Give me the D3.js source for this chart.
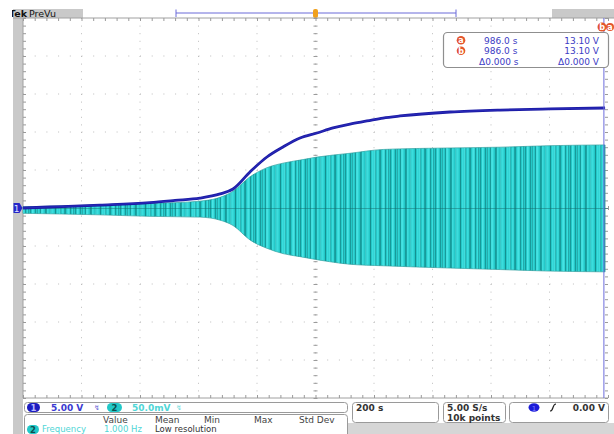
<!DOCTYPE html>
<html><head><meta charset="utf-8">
<script src="https://cdn.jsdelivr.net/npm/d3@7"></script>
<style>body{margin:0;background:#fff} svg{display:block} text{font-family:"DejaVu Sans",sans-serif}</style>
</head><body><svg id="c" width="614" height="434"></svg>
<script>
// ---- data ----
const ch1Time  = [-1000,-908,-737,-566,-480,-395,-326,-282,-224,-166,-111,-53,5,60,118,176,231,289,460,631,802,990];
const ch1Volts = [0,0.13,0.39,0.72,1.0,1.3,1.85,2.5,4.74,6.71,8.03,9.21,9.87,10.53,11.05,11.45,11.84,12.11,12.63,12.89,13.03,13.16];
const ch2Time  = [-1000,-737,-566,-395,-326,-282,-224,-166,-111,-53,5,118,231,460,631,802,990];
const ch2MaxMv = [1.5,4,6,9,14,22,41,53,59,63,67,72,77,79,80,82,83];
const ch2MinMv = [-7,-9,-11,-12,-16,-23,-42,-53,-60,-64,-68,-74,-76,-79,-81,-83,-84];
const cursorTime = 986.0;
const cursorRows = [["a","986.0 s","13.10 V"],["b","986.0 s","13.10 V"],["","\u03940.000 s","\u03940.000 V"]];
const measHeaders = ["Value","Mean","Min","Max","Std Dev"];
const measRow = ["Frequency","1.000 Hz","Low resolution"];
const ch1Scale = "5.00 V", ch2Scale = "50.0mV", timeScale = "200 s", sampleRate = "5.00 S/s", recLen = "10k points", trigLevel = "0.00 V";

// ---- layout ----
const L = 23, R = 608, T = 18, B = 398;
const svg = d3.select("#c");
const x = d3.scaleLinear().domain([-1000, 1000]).range([L, R]);
const y1 = d3.scaleLinear().domain([-25, 25]).range([B, T]);
const y2 = d3.scaleLinear().domain([-250, 250]).range([B, T]);
const defs = svg.append("defs");

// backgrounds
svg.append("rect").attr("x",13).attr("y",9).attr("width",10).attr("height",425).attr("fill","#c9c9c9");
svg.append("rect").attr("x",348).attr("y",423).attr("width",266).attr("height",11).attr("fill","#d6d6d6");

// header
defs.append("clipPath").attr("id","hc").append("rect").attr("x",12).attr("y",0).attr("width",80).attr("height",20);
svg.append("rect").attr("x",13).attr("y",9).attr("width",70).attr("height",9).attr("fill","#c9c9c9");
const ht = svg.append("text").attr("clip-path","url(#hc)").attr("x",9).attr("y",17).attr("font-size",9.5).attr("fill","#111");
ht.append("tspan").attr("font-weight","bold").text("Tek");
ht.append("tspan").attr("dx",2).text("PreVu");
svg.append("rect").attr("x",552).attr("y",9).attr("width",62).attr("height",9).attr("fill","#c9c9c9");
// record view bracket
svg.append("line").attr("x1",176).attr("x2",456).attr("y1",13).attr("y2",13).attr("stroke","#6a6ad8").attr("stroke-width",1);
[176,456].forEach(v=>svg.append("line").attr("x1",v).attr("x2",v).attr("y1",9.5).attr("y2",17).attr("stroke","#6a6ad8"));
svg.append("rect").attr("x",x(0)-2.5).attr("y",9).attr("width",5).attr("height",9).attr("rx",2).attr("fill","#f0a01e");

// graticule
const g = svg.append("g");
const majX = d3.range(-1000, 1001, 200), majY = d3.range(-25, 26, 5);
const minX = d3.range(-1000, 1001, 40), minY = d3.range(-25, 25.1, 1);
g.selectAll(".gx").data(majX.slice(1,-1)).join("line")
  .attr("x1",d=>x(d)).attr("x2",d=>x(d)).attr("y1",T).attr("y2",B)
  .attr("stroke","#bdbdbd").attr("stroke-width",1).attr("stroke-dasharray","1 6.6");
g.selectAll(".gy").data(majY.slice(1,-1)).join("line")
  .attr("y1",d=>y1(d)).attr("y2",d=>y1(d)).attr("x1",L).attr("x2",R)
  .attr("stroke","#bdbdbd").attr("stroke-width",1).attr("stroke-dasharray","1 10.7");
g.append("line").attr("x1",13).attr("x2",614).attr("y1",T).attr("y2",T).attr("stroke","#a0a0a0");
g.append("line").attr("x1",L).attr("x2",R).attr("y1",B).attr("y2",B).attr("stroke","#a0a0a0");
g.append("line").attr("x1",L).attr("x2",L).attr("y1",T).attr("y2",B).attr("stroke","#a0a0a0");
const tickStyle = sel => { sel.select(".domain").remove(); sel.selectAll("text").remove(); sel.selectAll("line").attr("stroke","#9a9a9a"); };
g.append("g").attr("transform",`translate(0,${T})`).call(d3.axisBottom(x).tickValues(minX).tickSize(3)).call(tickStyle);
g.append("g").attr("transform",`translate(0,${B})`).call(d3.axisTop(x).tickValues(minX).tickSize(3)).call(tickStyle);
g.append("g").attr("transform",`translate(${L},0)`).call(d3.axisRight(y1).tickValues(minY).tickSize(3)).call(tickStyle);
g.append("g").attr("transform",`translate(${R},0)`).call(d3.axisLeft(y1).tickValues(minY).tickSize(3)).call(tickStyle);
g.append("g").attr("transform",`translate(0,${y1(0)-2})`).call(d3.axisBottom(x).tickValues(minX).tickSize(4)).call(tickStyle);
g.append("g").attr("transform",`translate(${x(0)-2},0)`).call(d3.axisRight(y1).tickValues(minY).tickSize(4)).call(tickStyle);

// ch2 streak patterns (style only)
const pA = defs.append("pattern").attr("id","pA").attr("patternUnits","userSpaceOnUse").attr("width",5).attr("height",434);
pA.append("rect").attr("width",5).attr("height",434).attr("fill","#24c8c8");
pA.append("rect").attr("x",0).attr("width",1).attr("height",434).attr("fill","#189a9a");
pA.append("rect").attr("x",2.2).attr("width",1.3).attr("height",434).attr("fill","#40e2e2");
const pB = defs.append("pattern").attr("id","pB").attr("patternUnits","userSpaceOnUse").attr("width",9).attr("height",434);
pB.append("rect").attr("x",1).attr("width",1).attr("height",434).attr("fill","#138888");
pB.append("rect").attr("x",5).attr("width",1.6).attr("height",434).attr("fill","#55eeee");

const env = ch2Time.map((t,i)=>({t, hi:ch2MaxMv[i], lo:ch2MinMv[i]}));
const area = d3.area().x(d=>x(d.t)).y0(d=>y2(d.lo)).y1(d=>y2(d.hi)).curve(d3.curveMonotoneX);
svg.append("path").datum(env).attr("d",area).attr("fill","url(#pA)").attr("stroke","#2f9c9c").attr("stroke-width",0.7);
svg.append("path").datum(env).attr("d",area).attr("fill","url(#pB)").attr("opacity",0.55);
svg.append("line").attr("x1",L).attr("x2",R).attr("y1",y2(0)+0.5).attr("y2",y2(0)+0.5).attr("stroke","#166f6f").attr("stroke-width",0.8).attr("opacity",0.6);

// ch1 trace
const ch1 = ch1Time.map((t,i)=>({t, v:ch1Volts[i]}));
const line1 = d3.line().x(d=>x(d.t)).y(d=>y1(d.v)).curve(d3.curveMonotoneX);
svg.append("path").datum(ch1).attr("d",line1).attr("fill","none").attr("stroke","#1c1ca6").attr("stroke-width",2.8);
svg.append("path").datum(ch1).attr("d",line1).attr("fill","none").attr("stroke","#3232c4").attr("stroke-width",1).attr("opacity",0.6);

// cursor line
svg.append("line").attr("x1",x(cursorTime)).attr("x2",x(cursorTime)).attr("y1",T).attr("y2",B).attr("stroke","#6b6bdc").attr("stroke-width",1);

// ch1 ground marker
svg.append("path").attr("d",`M13.5,${y1(0)-5} h6 l3,5 l-3,5 h-6 z`).attr("fill","#2626c8");
svg.append("text").attr("x",16.5).attr("y",y1(0)+3.5).attr("text-anchor","middle").attr("font-size",9).attr("fill","#dfe0ff").text("1");

// top right cursor badges
const badge = (cx, cy, r, lab) => {
  svg.append("circle").attr("cx",cx).attr("cy",cy).attr("r",r).attr("fill","#e4552c");
  svg.append("text").attr("x",cx).attr("y",cy+3).attr("text-anchor","middle").attr("font-size",8).attr("font-weight","bold").attr("fill","#fff").text(lab);
};
badge(602,27,4.5,"b"); badge(610,27,4,"a");

// cursor readout box
svg.append("rect").attr("x",443.5).attr("y",32.5).attr("width",165).attr("height",35).attr("rx",4).attr("fill","#fff").attr("stroke","#8f8f8f").attr("stroke-width",1.2);
cursorRows.forEach((r,i)=>{
  const yy = 43.5 + i*10.5;
  if (r[0]) badge(461, yy-3.3, 4.3, r[0]);
  svg.append("text").attr("x", r[0] ? 484 : 479).attr("y",yy).attr("font-size",9).attr("fill","#3c3cc4").text(r[1]);
  svg.append("text").attr("x",599).attr("y",yy).attr("text-anchor","end").attr("font-size",9).attr("fill","#3c3cc4").text(r[2]);
});

// bottom status boxes
const box = (bx,by,bw,bh) => svg.append("rect").attr("x",bx).attr("y",by).attr("width",bw).attr("height",bh).attr("rx",3).attr("fill","#fff").attr("stroke","#9a9a9a").attr("stroke-width",1);
box(24.5,402.5,323,10);
const pill = (px,py,w,col,lab,tc) => {
  svg.append("rect").attr("x",px).attr("y",py).attr("width",w).attr("height",9).attr("rx",4.5).attr("fill",col);
  svg.append("text").attr("x",px+w/2).attr("y",py+7.8).attr("text-anchor","middle").attr("font-size",8.5).attr("font-weight","bold").attr("fill",tc).text(lab);
};
pill(27,403,13,"#1c1cc0","1","#b8b8ff");
svg.append("text").attr("x",51).attr("y",411).attr("font-size",9).attr("font-weight","bold").attr("fill","#3a3ad0").text(ch1Scale);
svg.append("text").attr("x",94).attr("y",410).attr("font-size",7).attr("fill","#6a6ad8").text("\u21AF");
pill(107,403,15,"#22c8c8","2","#0d4f4f");
svg.append("text").attr("x",132).attr("y",411).attr("font-size",9).attr("font-weight","bold").attr("fill","#4fd6d6").text(ch2Scale);
svg.append("text").attr("x",176).attr("y",410).attr("font-size",7).attr("fill","#6fdede").text("\u21AF");

box(352.5,402.5,86,20);
svg.append("text").attr("x",356).attr("y",411).attr("font-size",9).attr("font-weight","bold").attr("fill","#333").text(timeScale);
box(443.5,402.5,62,20);
svg.append("text").attr("x",447).attr("y",411).attr("font-size",9).attr("font-weight","bold").attr("fill","#333").text(sampleRate);
svg.append("text").attr("x",447).attr("y",420.5).attr("font-size",9).attr("font-weight","bold").attr("fill","#333").text(recLen);
box(509.5,402.5,99,20);
svg.append("ellipse").attr("cx",534).attr("cy",407.5).attr("rx",5.5).attr("ry",4.2).attr("fill","#1c1cd8");
svg.append("text").attr("x",534).attr("y",410.5).attr("text-anchor","middle").attr("font-size",7).attr("fill","#8080ff").text("1");
svg.append("path").attr("d","M550,411 q2,0 3,-3.5 q1,-3.5 3,-3.5").attr("fill","none").attr("stroke","#222").attr("stroke-width",1.2);
svg.append("text").attr("x",605).attr("y",411).attr("text-anchor","end").attr("font-size",9).attr("font-weight","bold").attr("fill","#333").text(trigLevel);

// measurement box
svg.append("rect").attr("x",24.5).attr("y",414.5).attr("width",323).attr("height",30).attr("rx",3).attr("fill","#fff").attr("stroke","#9a9a9a");
const hx = [103,155,204,254,299];
measHeaders.forEach((h,i)=>svg.append("text").attr("x",hx[i]).attr("y",423).attr("font-size",9).attr("fill","#444").text(h));
pill(27,425,12,"#22c8c8","2","#0d4f4f");
svg.append("text").attr("x",42).attr("y",432).attr("font-size",8.5).attr("fill","#4fd6d6").text(measRow[0]);
svg.append("text").attr("x",104).attr("y",432).attr("font-size",8.5).attr("fill","#4fd6d6").text(measRow[1]);
svg.append("text").attr("x",155).attr("y",432).attr("font-size",8.5).attr("fill","#333").text(measRow[2]);
</script></body></html>
